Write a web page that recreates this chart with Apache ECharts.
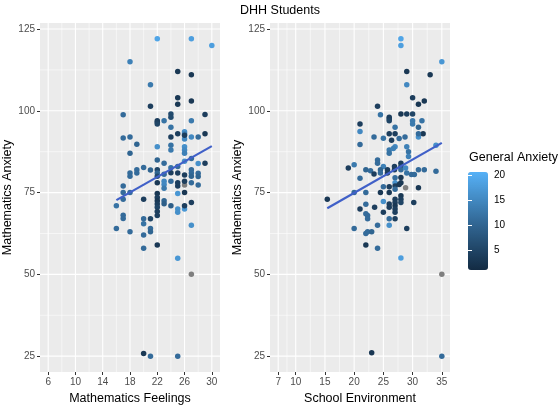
<!DOCTYPE html>
<html>
<head>
<meta charset="utf-8">
<script src="https://cdn.jsdelivr.net/npm/echarts@6/dist/echarts.min.js"></script>
<style>html,body{margin:0;padding:0;background:#fff}#c{width:560px;height:405px}</style>
</head>
<body>
<div id="c"></div>
<script>
// ---- Data: [x, Mathematics Anxiety, General Anxiety]
const feelingsPoints = [
[22,122,19],[27,122,18],[30,120,18],[18,115,14],[25,112,3],[27,111,3],[21,108,13],[25,104,3],[27,103,3],[25,102,3],[21,101.4,4],[17,98.8,11],[22,97,4],[22,96.5,4],[22,96,5],[23,97,12],[24,99,6],[24,98,6],[24,95,12],[27,97,13],[29,98.9,4],[17,91.7,11],[18,92,11],[19,89.8,10],[18,87,10],[22,89,16],[24,92,4],[24,89.5,12],[24,88,13],[26,93.6,16],[26,93,14],[26,91.4,15],[26,89,16],[26,88,15],[26,87,14],[27,92,15],[28,92,11],[29,93,3],[25,93,4],[26,92.5,4],
[19,82,11],[19,81,11],[18,81,11],[18,80,11],[20,82.7,11],[21,81.9,10],[22,85,10],[22,82,5],[22,81,10],[22,80,6],[23,84,11],[23,80.6,11],[24,82.6,12],[24,81.1,4],[25,83,11],[25,81,4],[26,84.6,16],[26,80.4,4],[27,85.4,11],[27,82,11],[27,81,11],[27,80,10],[28,83.9,16],[28,80.9,11],[28,79.9,10],[28,77.3,11],[29,84,4],
[22,78,3],[23,78.5,15],[23,77.5,15],[23,76.3,13],[24,78.5,11],[25,77,4],[25,78,4],[25,74.7,17],[26,78.5,4],[26,75,3],[27,78,11],[17,77,11],[17,75,11],[18,75,11],[17,73,11],[16,71,12],[20,73,4],[22,74.7,3],[22,73.5,4],[22,72.5,3],[22,71.5,4],[22,70.5,5],[22,69.2,4],[23,72.5,10],[23,71.6,9],[24,71,9],[25,70,16],[26,70,17],[26,71,4],[27,72,4],
[17,68.1,11],[17,67.1,11],[16,64,11],[18,63,11],[20,67,11],[20,65.5,12],[20,62,11],[20,58,11],[21,67,5],[21,64,11],[21,63,10],[22,68,4],[22,59,3],[25,69,16],[27,65,16],[25,54.9,17],[20,25.8,3],[21,25,11],[25,25,11]
];
const feelingsMissing = [[26,77.3],[27,50]];

const schoolPoints = [
[28,122,19],[28,120,18],[35,115,17],[29,112,3],[33,111,3],[29,108,15],[30,104,4],[32,103,3],[31,102,3],[24,101.4,4],[24.5,98.8,12],[26,98,4],[26,97.5,4],[26,97,5],[28,99,3],[29,99,4],[30,99,5],[30,97,13],[30,96,13],[31,95,10],[31.6,97,12],[21,96,4],[21,93.7,15],[21,89.7,11],[23.4,92,11],[25,91.6,12],[26,93,4],[27,95,12],[27,93,4],[26.4,91,4],[27.7,91.5,11],[28.7,92,11],[31,92,16],[31.8,93,3],[31,93,11],[27,89,15],[26,88,13],[26,87,12],[26.7,88.5,14],[29,89,14],[29.3,87.5,12],[29.3,86,14],
[28,84,4],[28,83,5],[28,82,11],[28.8,82.5,15],[29,81,12],[29.8,80.5,11],[30.3,80.5,11],[31,82,11],[32,82,11],[34,81.5,11],[34,89.5,16],[19,82.5,4],[20,83.5,13],[21,79.4,11],[22,82,10],[22.8,81.7,11],[23.4,80.7,4],[24,85,11],[24,84,11],[25,83,14],[24.5,82,10],[24.5,81,11],[25.7,82,4],[25.7,81,4],[26.9,82,4],[26.9,83,4],
[27,79.5,11],[27,78,16],[28,79.6,3],[28,78,3],[31,76.5,3],[25,76.8,11],[26,76.8,4],[27,77,4],[27,76,11],[27.7,77.5,3],[24.5,75,3],[26,75,3],[22,75,11],[20,75,11],[28,74,3],[28,73,4],[28,72,5],[26,71.5,4],[26,70.5,4],[27,73,4],[27,72,4],[27,71,3],[27,70,4],[25,72.3,16],[25,69,4],[21,70,4],[22,71.4,11],[15.4,73,3],[30.2,72,4],
[22.3,68,11],[22.3,67,11],[22,68.5,11],[23.5,70.5,4],[27,69,4],[27,67,4],[20,64,11],[22,62.5,11],[22.3,63,11],[23,63,10],[24,65,11],[26,67,11],[26,65,16],[29,64,4],[22,59,3],[24,58,11],[28,55,18],[23,26,3],[35,25,11]
];
const schoolMissing = [[28.8,76.5],[35,50]];

// fitted lm lines (endpoints)
const feelingsFit = [[16,72.7],[30,89.2]];
const schoolFit = [[15.4,70.2],[35,90.2]];

// ticks / gridlines
const feelingsTicks = [6,10,14,18,22,26,30];
const feelingsMinor = [8,12,16,20,24,28];
const schoolTicks = [7,10,15,20,25,30,35];
const schoolMinor = [8.5,12.5,17.5,22.5,27.5,32.5];
const anxietyTicks = [25,50,75,100,125];
const anxietyMinor = [37.5,62.5,87.5,112.5];
const legendTicks = [5,10,15,20];

const FONT = 'Liberation Sans';
const gradient = ['#132B43','#336A98','#56B1F7'];

function gridLines(xMaj, xMin, yMaj, yMin){
  const d = [];
  xMin.forEach(v=>d.push([v,0,0])); yMin.forEach(v=>d.push([v,1,0]));
  xMaj.forEach(v=>d.push([v,0,1])); yMaj.forEach(v=>d.push([v,1,1]));
  return d;
}
function renderGrid(params, api){
  const cs = params.coordSys;
  const v = api.value(0), orient = api.value(1), major = api.value(2);
  const p = api.coord([v, v]);
  let shape;
  if (orient === 0) shape = {x1:p[0], y1:cs.y, x2:p[0], y2:cs.y+cs.height};
  else shape = {x1:cs.x, y1:p[1], x2:cs.x+cs.width, y2:p[1]};
  return {type:'line', shape, style:{stroke:'#FFFFFF', lineWidth: major ? 1.1 : 0.55}, silent:true};
}

function xAxis(idx, min, max, ticks, name){
  return {type:'value', gridIndex:idx, min, max, name, nameLocation:'middle', nameGap:18,
    nameTextStyle:{fontSize:12.5, color:'#000', fontFamily:FONT},
    axisLine:{show:false}, splitLine:{show:false},
    axisTick:{show:true, customValues:ticks, length:3, lineStyle:{color:'#333', width:1}},
    axisLabel:{customValues:ticks, fontSize:10, color:'#4D4D4D', margin:5, fontFamily:FONT}};
}
function yAxis(idx){
  return {type:'value', gridIndex:idx, min:20.15, max:126.85, name:'Mathematics Anxiety', nameLocation:'middle', nameGap:25,
    nameTextStyle:{fontSize:12.5, color:'#000', fontFamily:FONT},
    axisLine:{show:false}, splitLine:{show:false},
    axisTick:{show:true, customValues:anxietyTicks, length:3, lineStyle:{color:'#333', width:1}},
    axisLabel:{customValues:anxietyTicks, fontSize:10, color:'#4D4D4D', margin:5, fontFamily:FONT}};
}

const chart = echarts.init(document.getElementById('c'), null, {renderer:'canvas'});
chart.setOption({
  animation:false,
  textStyle:{fontFamily:FONT},
  title:[
    {text:'DHH Students', left:'center', top:4, padding:0, textStyle:{fontSize:12.5, fontWeight:'normal', color:'#000', fontFamily:FONT}},
    {text:'General Anxiety', left:469, top:151, padding:0, textStyle:{fontSize:12.5, fontWeight:'normal', color:'#000', fontFamily:FONT}}
  ],
  grid:[
    {left:40, top:23, width:180, height:349, show:true, backgroundColor:'#EBEBEB', borderWidth:0, outerBoundsMode:'none', containLabel:false},
    {left:270, top:23, width:180, height:349, show:true, backgroundColor:'#EBEBEB', borderWidth:0, outerBoundsMode:'none', containLabel:false},
    {left:468, top:172, width:20, height:98, show:false, outerBoundsMode:'none', containLabel:false}
  ],
  xAxis:[
    xAxis(0, 4.8, 31.2, feelingsTicks, 'Mathematics Feelings'),
    xAxis(1, 5.6, 36.4, schoolTicks, 'School Environment'),
    {type:'value', gridIndex:2, min:0, max:1, show:false}
  ],
  yAxis:[
    yAxis(0), yAxis(1),
    {type:'value', gridIndex:2, min:1, max:20.6, position:'right', z:10,
      axisLine:{show:false}, splitLine:{show:false},
      axisTick:{show:true, inside:true, length:4, customValues:legendTicks, lineStyle:{color:'#fff', width:1}},
      axisLabel:{customValues:legendTicks, fontSize:10, color:'#000', margin:6, fontFamily:FONT}},
    {type:'value', gridIndex:2, min:1, max:20.6, position:'left', z:10,
      axisLine:{show:false}, splitLine:{show:false},
      axisTick:{show:true, inside:true, length:4, customValues:legendTicks, lineStyle:{color:'#fff', width:1}},
      axisLabel:{show:false}}
  ],
  visualMap:{type:'continuous', min:1, max:20.6, dimension:2, seriesIndex:[2,6],
    inRange:{color:gradient}, calculable:false, hoverLink:false, text:null,
    left:468, top:172, itemWidth:20, itemHeight:98, padding:0, orient:'vertical'},
  series:[
    {type:'custom', xAxisIndex:0, yAxisIndex:0, renderItem:renderGrid, data:gridLines(feelingsTicks, feelingsMinor, anxietyTicks, anxietyMinor), silent:true, z:1, clip:false},
    {type:'scatter', xAxisIndex:0, yAxisIndex:0, data:feelingsMissing, symbolSize:5.5, itemStyle:{color:'#7F7F7F', opacity:1}, z:3},
    {type:'scatter', xAxisIndex:0, yAxisIndex:0, data:feelingsPoints, symbolSize:5.5, itemStyle:{opacity:1}, z:3},
    {type:'line', xAxisIndex:0, yAxisIndex:0, data:feelingsFit, symbol:'none', lineStyle:{color:'#4060C8', width:2.2}, z:5},
    {type:'custom', xAxisIndex:1, yAxisIndex:1, renderItem:renderGrid, data:gridLines(schoolTicks, schoolMinor, anxietyTicks, anxietyMinor), silent:true, z:1, clip:false},
    {type:'scatter', xAxisIndex:1, yAxisIndex:1, data:schoolMissing, symbolSize:5.5, itemStyle:{color:'#7F7F7F', opacity:1}, z:3},
    {type:'scatter', xAxisIndex:1, yAxisIndex:1, data:schoolPoints, symbolSize:5.5, itemStyle:{opacity:1}, z:3},
    {type:'line', xAxisIndex:1, yAxisIndex:1, data:schoolFit, symbol:'none', lineStyle:{color:'#4060C8', width:2.2}, z:5},
    {type:'scatter', xAxisIndex:2, yAxisIndex:2, data:[]}
  ]
});
</script>
</body>
</html>
